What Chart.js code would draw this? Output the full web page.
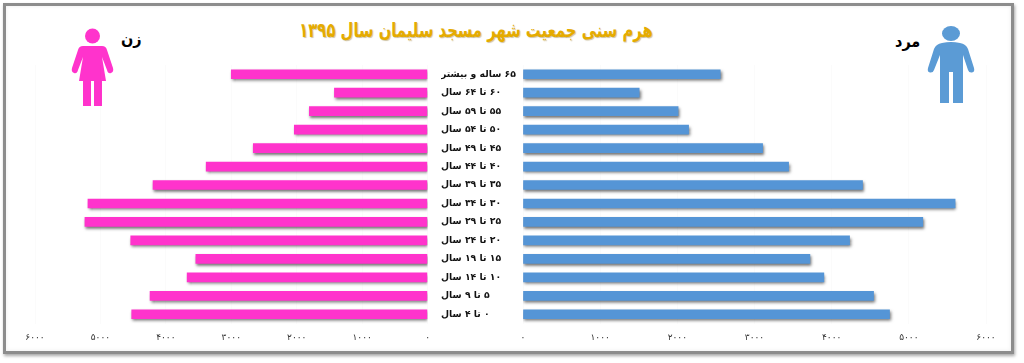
<!DOCTYPE html>
<html lang="fa" dir="rtl">
<head>
<meta charset="utf-8">
<title>هرم سنی</title>
<script src="https://cdn.jsdelivr.net/npm/chart.js@4"></script>
<style>
html,body{margin:0;padding:0;width:1024px;height:363px;overflow:hidden;background:#fff;font-family:"DejaVu Sans",sans-serif}
#frame{position:absolute;left:3px;top:3px;width:1005px;height:345px;border:3px solid #8c8c8c;box-shadow:1px 2px 3px rgba(0,0,0,.35),inset 0 0 4px rgba(0,0,0,.08)}
canvas{position:absolute}
#chartWomen{left:5px;top:55px}
#chartMen{left:441px;top:55px}
.txt{position:absolute;font-weight:bold;white-space:nowrap;line-height:1}
#title{left:226px;width:500px;top:20px;text-align:center;font-size:20px;color:#e5ab00;text-shadow:1px 1px 1px rgba(120,90,0,.35);transform:scaleX(.74)}
#lblWomen{left:121px;top:31px;font-size:16px;font-family:"DejaVu Sans Condensed","DejaVu Sans",sans-serif;color:#000}
#lblMen{left:895px;top:34px;font-size:16px;font-family:"DejaVu Sans Condensed","DejaVu Sans",sans-serif;color:#000}
svg{position:absolute}
</style>
</head>
<body>
<div id="frame"></div>
<div class="txt" id="title">هرم سنی جمعیت شهر مسجد سلیمان سال ۱۳۹۵</div>
<div class="txt" id="lblWomen">زن</div>
<div class="txt" id="lblMen">مرد</div>

<svg style="left:70px;top:26px" width="46" height="82" viewBox="0 0 46 82">
  <circle cx="22.5" cy="10" r="7.5" fill="#ff33cc"/>
  <path d="M13 20 H32 Q36 20 37 24 L43 42 Q44 46 41 47 Q38 48 37 44 L32 31 L36 55 H32 V80 H24 V55 H21 V80 H13 V55 H9 L13 31 L8 44 Q7 48 4 47 Q1 46 2 42 L8 24 Q9 20 13 20Z" fill="#ff33cc"/>
</svg>
<svg style="left:925px;top:24px" width="52" height="82" viewBox="0 0 52 82">
  <ellipse cx="26" cy="9.5" rx="9" ry="7.5" fill="#5b9bd5"/>
  <path d="M17 19 Q26 17 35 19 Q41 20 43 25 L49 44 Q50 48 47 48.500 Q44 49 43 46 L38 31 V79 H28 V48 H24 V79 H15 V31 L9 46 Q8 49 5 48.500 Q2 48 3 44 L9 25 Q11 20 17 19Z" fill="#5b9bd5"/>
</svg>

<canvas id="chartWomen" width="434" height="295"></canvas>
<canvas id="chartMen" width="569" height="295"></canvas>

<script>
const ageGroups = ['۶۵ ساله و بیشتر','۶۰ تا ۶۴ سال','۵۵ تا ۵۹ سال','۵۰ تا ۵۴ سال','۴۵ تا ۴۹ سال','۴۰ تا ۴۴ سال','۳۵ تا ۳۹ سال','۳۰ تا ۳۴ سال','۲۵ تا ۲۹ سال','۲۰ تا ۲۴ سال','۱۵ تا ۱۹ سال','۱۰ تا ۱۴ سال','۵ تا ۹ سال','۰ تا ۴ سال'];
const women = [3000,1424,1807,2037,2664,3384,4196,5191,5237,4537,3542,3675,4242,4522];
const men   = [2556,1506,2010,2146,3105,3442,4400,5600,5181,4232,3718,3899,4543,4750];
const axisMax = 6000;
const axisStep = 1000;

function faDigits(v){
  return String(v).replace(/\d/g,d=>'۰۱۲۳۴۵۶۷۸۹'[d]);
}

// soft office-style shadow under the bars
const barShadow = {
  id:'barShadow',
  beforeDatasetsDraw(chart){
    const c = chart.ctx;
    c.save();
    c.shadowColor = 'rgba(0,0,0,.55)';
    c.shadowBlur = 3;
    c.shadowOffsetX = 1;
    c.shadowOffsetY = 2;
  },
  afterDatasetsDraw(chart){ chart.ctx.restore(); }
};

function pyramidChart(id, values, color, reversed, padding, showLabels){
  return new Chart(document.getElementById(id),{
    type:'bar',
    data:{ labels:ageGroups, datasets:[{ data:values, backgroundColor:color, barThickness:9 }] },
    plugins:[barShadow],
    options:{
      indexAxis:'y',
      responsive:false,
      animation:false,
      layout:{ padding },
      plugins:{ legend:{display:false}, tooltip:{enabled:false} },
      scales:{
        x:{
          reverse:reversed, min:0, max:axisMax,
          afterFit(a){ a.height = 26; },
          grid:{ color:'rgba(0,0,0,.015)', drawTicks:false },
          border:{ display:false },
          ticks:{ stepSize:axisStep, maxRotation:0, padding:9, color:'#333', font:{family:'DejaVu Sans',size:9}, callback:v=>faDigits(v) }
        },
        y:{
          display:showLabels,
          afterFit(a){ a.width = showLabels ? 82 : 0; },
          grid:{ display:false },
          border:{ display:false },
          ticks:{ autoSkip:false, crossAlign:'far', padding:0, color:'#111', font:{family:'DejaVu Sans',size:9.3,weight:'bold'} }
        }
      }
    }
  });
}

pyramidChart('chartWomen', women, '#ff33cc', true, {left:30,right:10,top:10,bottom:0.5}, false);
pyramidChart('chartMen', men, '#5595d6', false, {left:0,right:24,top:10,bottom:0.5}, true);
</script>
</body>
</html>
